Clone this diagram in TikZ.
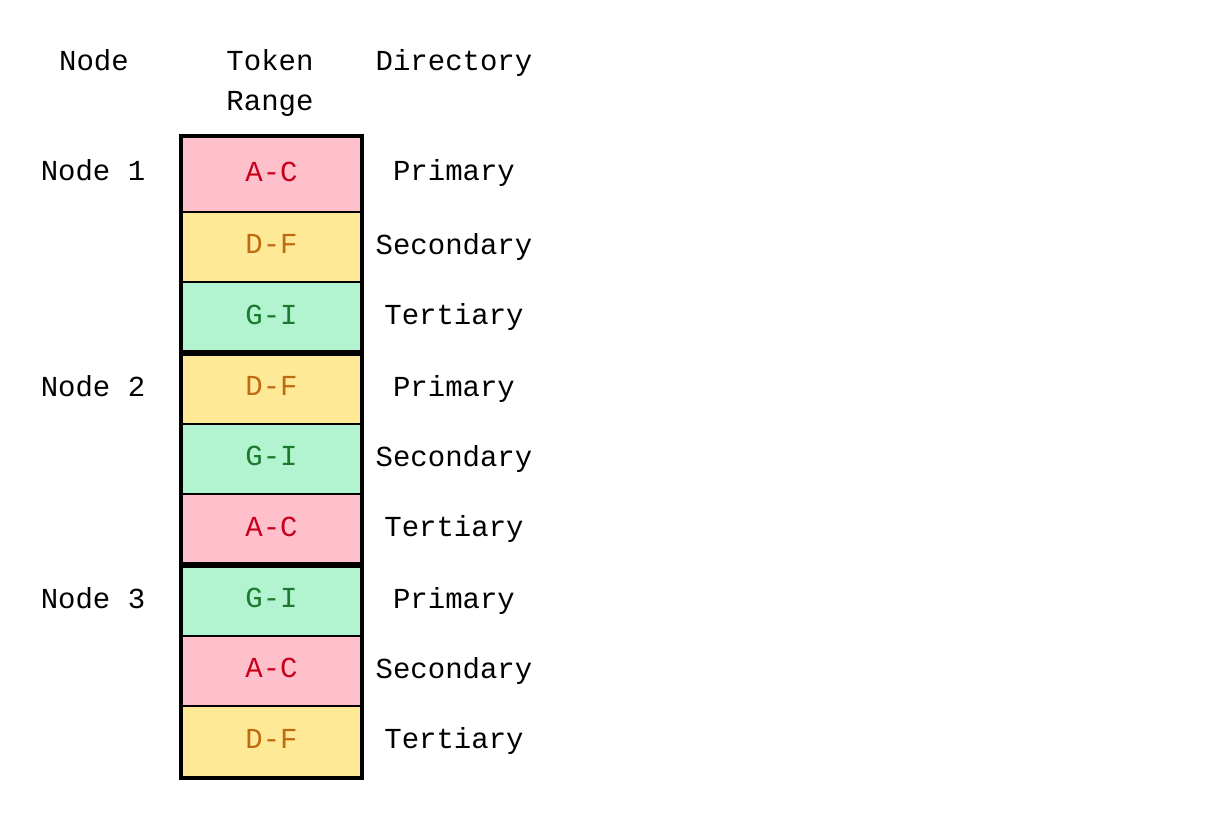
\documentclass[tikz,border=0pt]{standalone}
\usepackage{fontspec}
\setmonofont{Liberation Mono}
\usepackage{tikz}
\usetikzlibrary{positioning}

\definecolor{rangeAfill}{HTML}{FFC0CB}
\definecolor{rangeAtext}{HTML}{C8001E}
\definecolor{rangeDfill}{HTML}{FEE996}
\definecolor{rangeDtext}{HTML}{BF6A10}
\definecolor{rangeGfill}{HTML}{B2F3D0}
\definecolor{rangeGtext}{HTML}{1B7A2C}

\tikzset{
    label/.style={font=\ttfamily\fontsize{29}{40}\selectfont, inner sep=0pt, text depth=0pt},
    cell/.style={draw=black, line width=2pt, minimum width=179pt, inner sep=0pt,
                 text depth=6pt, font=\ttfamily\fontsize{29}{40}\selectfont},
    rangeA/.style={cell, fill=rangeAfill, text=rangeAtext},
    rangeD/.style={cell, fill=rangeDfill, text=rangeDtext},
    rangeG/.style={cell, fill=rangeGfill, text=rangeGtext},
    group/.style={draw=black, line width=3.5pt}
}

\begin{document}
\begin{tikzpicture}[x=1pt, y=-1pt]
        \useasboundingbox (0,0) rectangle (1229,827);
        % headers
        \node[label] (hnode) at (94,60) {Node};
        \node[label] (htoken) at (270,60) {Token};
        \node[label] (hrange) at (270,101) {Range};
        \node[label] (hdir) at (454,60) {Directory};
        % token range cells
        \node[rangeA, minimum height=75pt] (c1) at (271.5,174.5) {A-C};
        \node[rangeD, minimum height=70pt] (c2) at (271.5,247) {D-F};
        \node[rangeG, minimum height=71pt] (c3) at (271.5,317.5) {G-I};
        \node[rangeD, minimum height=71pt] (c4) at (271.5,388.5) {D-F};
        \node[rangeG, minimum height=70pt] (c5) at (271.5,459) {G-I};
        \node[rangeA, minimum height=71pt] (c6) at (271.5,529.5) {A-C};
        \node[rangeG, minimum height=71pt] (c7) at (271.5,600.5) {G-I};
        \node[rangeA, minimum height=70pt] (c8) at (271.5,671) {A-C};
        \node[rangeD, minimum height=71pt] (c9) at (271.5,741.5) {D-F};
        % node groups
        \draw[group] (c1.north west) rectangle (c3.south east);
        \draw[group] (c4.north west) rectangle (c6.south east);
        \draw[group] (c7.north west) rectangle (c9.south east);
        % node names
        \node[label] (n1) at (93,170) {Node 1};
        \node[label] (n2) at (93,386) {Node 2};
        \node[label] (n3) at (93,598) {Node 3};
        % directories
        \node[label] (d1) at (454,170) {Primary};
        \node[label] (d2) at (454,244) {Secondary};
        \node[label] (d3) at (454,314) {Tertiary};
        \node[label] (d4) at (454,386) {Primary};
        \node[label] (d5) at (454,456) {Secondary};
        \node[label] (d6) at (454,526) {Tertiary};
        \node[label] (d7) at (454,598) {Primary};
        \node[label] (d8) at (454,668) {Secondary};
        \node[label] (d9) at (454,738) {Tertiary};
    \end{tikzpicture}
\end{document}
